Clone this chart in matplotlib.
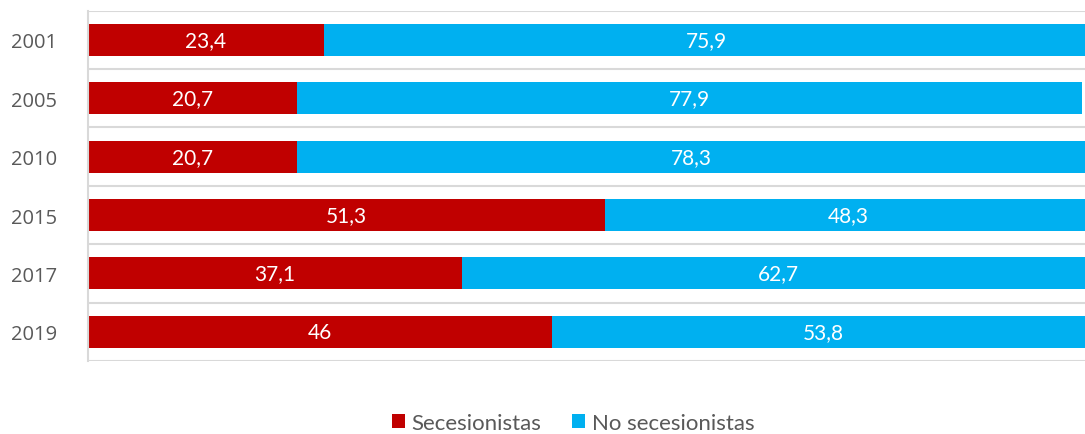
import matplotlib.pyplot as plt
import numpy as np

years = ['2001', '2005', '2010', '2015', '2017', '2019']
secesionistas = [23.4, 20.7, 20.7, 51.3, 37.1, 46]
no_secesionistas = [75.9, 77.9, 78.3, 48.3, 62.7, 53.8]

red = '#C00000'
blue = '#00B0F0'
plt.rcParams['font.family'] = ['Lato', 'DejaVu Sans']

fig = plt.figure(figsize=(10.85, 4.35), dpi=100)
ax = fig.add_axes([0.0811, 0.168, 0.929, 0.805])

y = np.arange(len(years))
b1 = ax.barh(y, secesionistas, height=0.55, color=red, label='Secesionistas')
b2 = ax.barh(y, no_secesionistas, left=secesionistas, height=0.55, color=blue,
             label='No secesionistas')

def fmt(v):
    s = ('%g' % v).replace('.', ',')
    return s

for bars, vals in [(b1, secesionistas), (b2, no_secesionistas)]:
    for rect, v in zip(bars, vals):
        ax.text(rect.get_x() + rect.get_width() / 2, rect.get_y() + rect.get_height() / 2,
                fmt(v), ha='center', va='center', color='white', fontsize=15)

ax.set_xlim(0, 100)
ax.set_ylim(5.5, -0.5)
ax.set_yticks(y)
ax.set_yticklabels(years, family=['Open Sans', 'DejaVu Sans'])
ax.set_yticks(np.arange(-0.5, 6, 1), minor=True)
ax.tick_params(axis='y', which='both', length=0, pad=22, labelsize=14.5, labelcolor='#595959')
ax.set_xticks([])
ax.grid(axis='y', which='minor', color='#D9D9D9', linewidth=1.5)
ax.set_axisbelow(True)
for s in ['top', 'right', 'bottom']:
    ax.spines[s].set_visible(False)
ax.spines['left'].set_color('#D9D9D9')
ax.spines['left'].set_linewidth(1.5)

fig.legend(handles=[b1, b2], loc='center', bbox_to_anchor=(0.528, 0.025), ncol=2,
           frameon=False, fontsize=16, handlelength=0.6, handleheight=0.6,
           handletextpad=0.3, columnspacing=1.35, labelcolor='#595959')

fig.savefig('out.png', dpi=100)
